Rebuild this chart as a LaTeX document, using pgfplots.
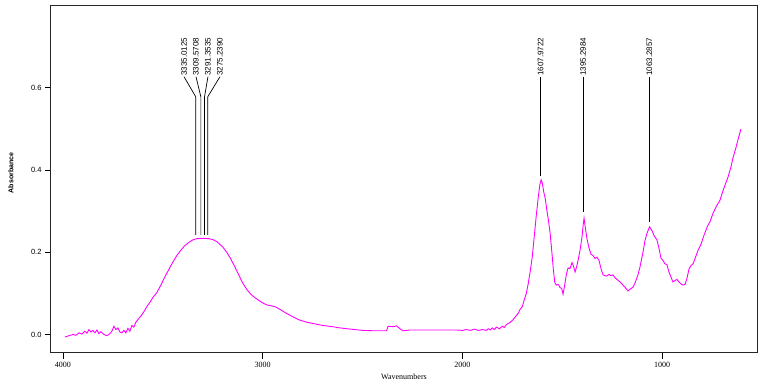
\documentclass[border=0pt]{standalone}
\usepackage{fontspec}
\setmainfont{Liberation Serif}
\newfontfamily\lsans{Liberation Sans}
\usepackage{pgfplots}
\pgfplotsset{compat=1.18}
\definecolor{spec}{RGB}{255,0,255}
\begin{document}
\begin{tikzpicture}
\begin{axis}[
  scale only axis, width=706pt, height=347pt,
  x dir=reverse, xmin=525, xmax=4060, ymin=-0.045, ymax=0.799,
  axis line style={line width=1pt, black!85},
  xtick={1000,2000,3000,4000},
  ytick={0,0.2,0.4,0.6},
  tick align=outside, tick pos=left,
  major tick length=6pt,
  every tick/.style={black, line width=0.8pt},
  /pgf/number format/assume math mode=true,
  x tick label style={font=\fontsize{8}{9}\selectfont, /pgf/number format/1000 sep={}},
  y tick label style={font=\lsans\fontsize{7.5}{9}\selectfont, /pgf/number format/.cd, fixed, fixed zerofill, precision=1},
  xlabel={Wavenumbers},
  xlabel style={font=\fontsize{8}{9}\selectfont, at={(axis description cs:0.5,-0.069)}, anchor=center},
  ylabel={Absorbance},
  ylabel style={font=\lsans\bfseries\fontsize{7}{8}\selectfont, at={(axis description cs:-0.0567,0.519)}, anchor=center, rotate=0},
  clip=false,
]
\addplot[spec, line width=0.9pt] coordinates {
(3990,-0.006) (3970,-0.003) (3950,0.000) (3935,-0.002) (3920,0.004) (3905,0.001) (3890,0.008) (3880,0.003) (3870,0.012) (3860,0.006) (3850,0.010) (3840,0.004) (3830,0.011) (3820,0.002) (3810,0.007) (3795,0.000) (3780,-0.003) (3765,0.002) (3755,0.008) (3745,0.020) (3735,0.012) (3725,0.016) (3715,0.006) (3705,0.004) (3695,0.010) (3685,0.004) (3675,0.015) (3665,0.008) (3655,0.022) (3645,0.018) (3635,0.030) (3625,0.036) (3610,0.045) (3595,0.055) (3580,0.068) (3565,0.078) (3550,0.090) (3530,0.102) (3510,0.120) (3490,0.140) (3470,0.158) (3450,0.176) (3430,0.192) (3410,0.205) (3390,0.216) (3370,0.224) (3350,0.230) (3330,0.233) (3300,0.234) (3270,0.233) (3250,0.231) (3230,0.226) (3200,0.213) (3180,0.200) (3160,0.184) (3140,0.165) (3120,0.145) (3100,0.125) (3080,0.110) (3060,0.098) (3040,0.090) (3020,0.083) (3000,0.077) (2980,0.072) (2960,0.070) (2940,0.068) (2920,0.063) (2900,0.057) (2880,0.051) (2860,0.046) (2840,0.041) (2820,0.036) (2800,0.033) (2780,0.030) (2740,0.026) (2700,0.022) (2650,0.019) (2613,0.016) (2560,0.013) (2500,0.010) (2440,0.009) (2380,0.009) (2372,0.020) (2345,0.019) (2330,0.021) (2310,0.013) (2298,0.009) (2260,0.011) (2200,0.011) (2100,0.011) (2030,0.011) (2000,0.010) (1980,0.012) (1960,0.010) (1940,0.013) (1920,0.010) (1900,0.012) (1880,0.010) (1870,0.014) (1860,0.011) (1850,0.016) (1840,0.012) (1830,0.018) (1815,0.014) (1800,0.020) (1790,0.017) (1780,0.024) (1765,0.028) (1750,0.034) (1740,0.040) (1730,0.046) (1720,0.052) (1710,0.062) (1700,0.068) (1690,0.085) (1680,0.100) (1670,0.125) (1660,0.155) (1650,0.190) (1640,0.240) (1630,0.290) (1620,0.335) (1612,0.365) (1606,0.376) (1600,0.368) (1592,0.345) (1585,0.330) (1578,0.305) (1570,0.280) (1561,0.247) (1552,0.200) (1545,0.160) (1538,0.128) (1530,0.120) (1520,0.122) (1511,0.114) (1503,0.112) (1496,0.098) (1488,0.120) (1480,0.145) (1471,0.162) (1462,0.160) (1451,0.175) (1443,0.165) (1436,0.152) (1428,0.165) (1421,0.180) (1411,0.205) (1401,0.238) (1395,0.268) (1391,0.283) (1386,0.265) (1381,0.248) (1376,0.232) (1366,0.210) (1356,0.195) (1346,0.192) (1336,0.185) (1326,0.188) (1316,0.180) (1306,0.160) (1296,0.145) (1280,0.142) (1266,0.146) (1256,0.143) (1246,0.145) (1236,0.138) (1221,0.132) (1211,0.128) (1196,0.120) (1186,0.115) (1171,0.106) (1161,0.110) (1146,0.115) (1136,0.125) (1121,0.145) (1111,0.164) (1096,0.200) (1086,0.228) (1076,0.246) (1063,0.262) (1050,0.252) (1040,0.240) (1026,0.230) (1016,0.210) (1006,0.186) (996,0.180) (986,0.172) (976,0.170) (966,0.152) (956,0.140) (946,0.128) (936,0.131) (926,0.134) (916,0.128) (906,0.123) (895,0.120) (885,0.122) (875,0.138) (865,0.160) (855,0.168) (845,0.172) (835,0.185) (820,0.205) (805,0.220) (790,0.242) (775,0.261) (760,0.275) (745,0.295) (728,0.312) (710,0.327) (695,0.350) (680,0.370) (670,0.383) (655,0.408) (645,0.430) (630,0.455) (618,0.478) (605,0.500)
};
% peak annotations
\begin{scope}[every node/.style={font=\lsans\fontsize{8}{9}\selectfont, rotate=90, anchor=west, inner sep=1pt}]
\draw[line width=0.7pt] (axis cs:3394,0.627) -- (axis cs:3335.0125,0.578) -- (axis cs:3335.0125,0.242);
\draw[line width=0.7pt] (axis cs:3334,0.627) -- (axis cs:3309.5708,0.578) -- (axis cs:3309.5708,0.242);
\draw[line width=0.7pt] (axis cs:3274,0.627) -- (axis cs:3291.3535,0.578) -- (axis cs:3291.3535,0.242);
\draw[line width=0.7pt] (axis cs:3214,0.627) -- (axis cs:3275.2390,0.578) -- (axis cs:3275.2390,0.242);
\node at (axis cs:3394,0.627) {3335.0125};
\node at (axis cs:3334,0.627) {3309.5708};
\node at (axis cs:3274,0.627) {3291.3535};
\node at (axis cs:3214,0.627) {3275.2390};
\draw[line width=0.7pt] (axis cs:1607.9722,0.627) -- (axis cs:1607.9722,0.385);
\draw[line width=0.7pt] (axis cs:1395.2984,0.627) -- (axis cs:1395.2984,0.298);
\draw[line width=0.7pt] (axis cs:1063.2857,0.627) -- (axis cs:1063.2857,0.274);
\node at (axis cs:1607.9722,0.627) {1607.9722};
\node at (axis cs:1395.2984,0.627) {1395.2984};
\node at (axis cs:1063.2857,0.627) {1063.2857};
\end{scope}
\end{axis}
\path ([shift={(-51pt,-31pt)}]current axis.south west) rectangle ([shift={(11pt,6pt)}]current axis.north east);
\end{tikzpicture}
\end{document}
